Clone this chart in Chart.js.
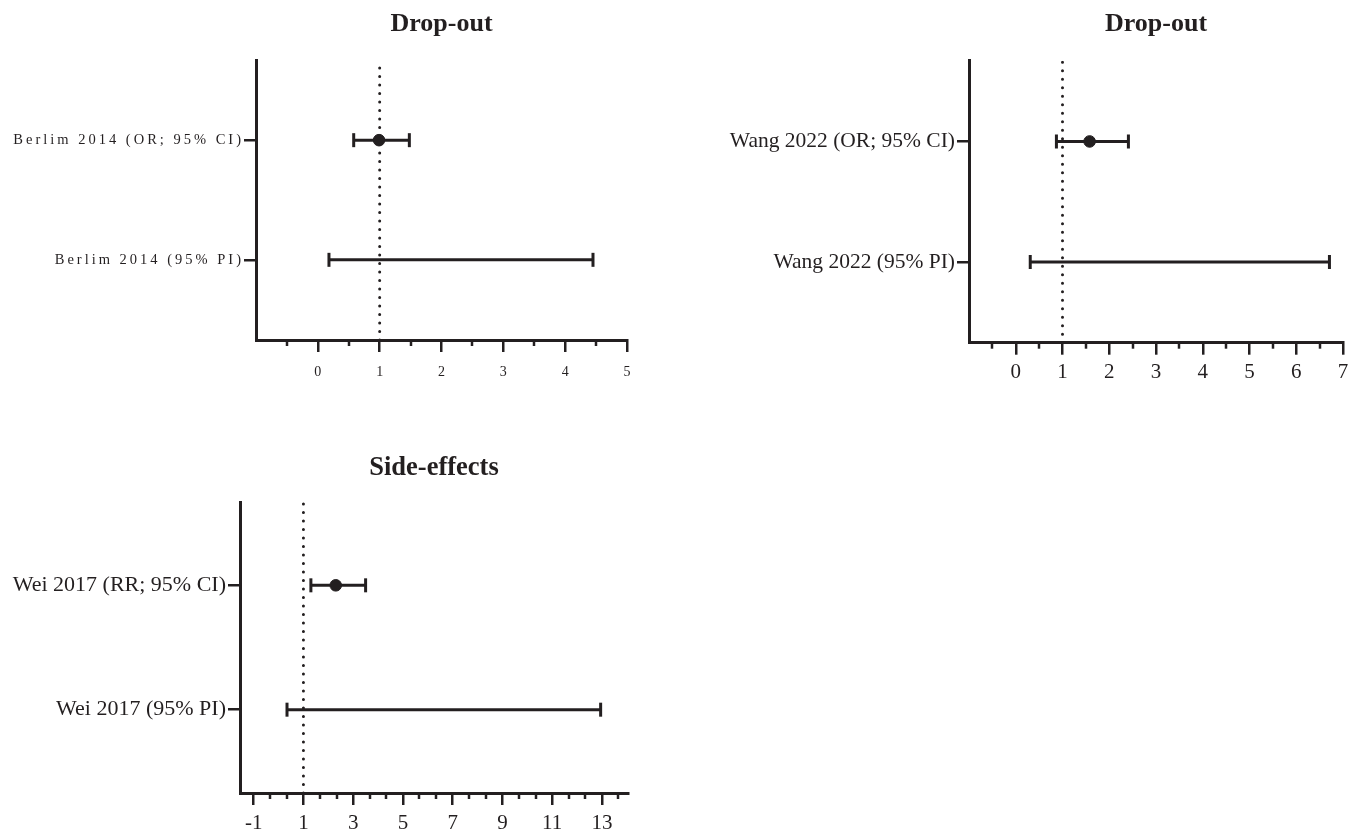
<!DOCTYPE html>
<html><head><meta charset="utf-8">
<script src="https://cdn.jsdelivr.net/npm/chart.js@4"></script>
<style>
html,body{margin:0;padding:0;background:#fff;width:1357px;height:831px;overflow:hidden;position:relative}
canvas{position:absolute}
</style></head>
<body>
<canvas id="c1" width="680" height="415" style="left:0px;top:0px"></canvas>
<canvas id="c2" width="657" height="415" style="left:700px;top:0px"></canvas>
<canvas id="c3" width="680" height="391" style="left:0px;top:440px"></canvas>
<script>
// ---------- data ----------
const title1 = 'Drop-out';
const rows1 = ['Berlim 2014 (95% PI)', 'Berlim 2014 (OR; 95% CI)'];
const estimate1 = [0.99];
const ci1 = [0.58, 1.48];
const pi1 = [0.18, 4.45];
const xTicks1 = [0, 1, 2, 3, 4, 5];

const title2 = 'Drop-out';
const rows2 = ['Wang 2022 (95% PI)', 'Wang 2022 (OR; 95% CI)'];
const estimate2 = [1.58];
const ci2 = [0.87, 2.41];
const pi2 = [0.31, 6.71];
const xTicks2 = [0, 1, 2, 3, 4, 5, 6, 7];

const title3 = 'Side-effects';
const rows3 = ['Wei 2017 (95% PI)', 'Wei 2017 (RR; 95% CI)'];
const estimate3 = [2.3];
const ci3 = [1.3, 3.5];
const pi3 = [0.34, 12.95];
const xTicks3 = [-1, 1, 3, 5, 7, 9, 11, 13];

const nullLine = [1]; // line of no effect

// ---------- style ----------
const INK = '#231f20';
const FONT = "'Liberation Serif', 'Times New Roman', serif";
const Y_MIN = -0.67, Y_MAX = 1.67;

function makePanel(id, d, P) {
  const minorPlugin = {
    id: 'minorTicks' + id,
    afterDraw(chart) {
      const s = chart.scales.x, ctx = chart.ctx;
      ctx.save();
      ctx.strokeStyle = INK; ctx.lineWidth = 2.5;
      const base = d.xTicks[0];
      for (let k = -20; k < 200; k++) {
        const v = base + k * P.minorStep;
        if (v <= s.min + 1e-6 || v > s.max + 1e-6) continue;
        if (d.xTicks.some(t => Math.abs(t - v) < 1e-6)) continue;
        const px = Math.round(s.getPixelForValue(v));
        ctx.beginPath();
        ctx.moveTo(px, s.top);
        ctx.lineTo(px, s.top + P.minorLen);
        ctx.stroke();
      }
      ctx.restore();
    }
  };
  const spacingPlugin = {
    id: 'spacing' + id,
    afterDatasetsDraw(chart) { chart.ctx.letterSpacing = P.letterSpacing || '0px'; },
    afterDraw(chart) { chart.ctx.letterSpacing = '0px'; }
  };
  const barStyle = {
    showLine: true, borderColor: INK, borderWidth: 3,
    pointStyle: 'line', pointRotation: 90, pointRadius: 7,
    pointBorderWidth: 3, pointBorderColor: INK, pointBackgroundColor: INK
  };
  return new Chart(document.getElementById(id), {
    type: 'scatter',
    data: {
      datasets: [
        { data: d.estimate.map(v => ({x: v, y: 1})), pointRadius: 5.8,
          pointBackgroundColor: INK, pointBorderColor: INK, pointBorderWidth: 1 },
        Object.assign({ data: [{x: d.ci[0], y: 1}, {x: d.ci[1], y: 1}] }, barStyle),
        Object.assign({ data: [{x: d.pi[0], y: 0}, {x: d.pi[1], y: 0}] }, barStyle),
        { data: [{x: d.nullLine[0], y: Y_MIN}, {x: d.nullLine[0], y: Y_MAX}], showLine: true,
          borderColor: INK, borderWidth: 3, borderDash: [0, 8.5], borderCapStyle: 'round', pointRadius: 0 }
      ]
    },
    options: {
      responsive: false, animation: false, events: [],
      devicePixelRatio: 1,
      layout: { padding: { left: 0, right: P.padRight, top: 0, bottom: 0 } },
      plugins: {
        legend: { display: false }, tooltip: { enabled: false },
        title: { display: true, text: d.title, fullSize: false, color: INK,
          font: { family: FONT, size: P.titleSize, weight: 'bold' },
          padding: { top: P.titleTop, bottom: P.titleBottom } }
      },
      scales: {
        x: {
          type: 'linear', min: P.xMin, max: P.xMax,
          afterFit: s => { s.height = P.xh; },
          afterBuildTicks: s => { s.ticks = d.xTicks.map(v => ({value: v})); },
          ticks: { callback: v => String(v), color: INK, font: { family: FONT, size: P.xTickSize },
            padding: P.xPad, maxRotation: 0, autoSkip: false },
          grid: { drawOnChartArea: false, drawTicks: true, tickLength: 12, lineWidth: 2.5, color: INK },
          border: { display: true, width: 3, color: INK }
        },
        y: {
          type: 'linear', min: Y_MIN, max: Y_MAX,
          afterFit: s => { s.width = P.yw; },
          afterBuildTicks: s => { s.ticks = d.rows.map((_, i) => ({value: i})); },
          ticks: { callback: v => d.rows[v], color: INK, font: { family: FONT, size: P.yLabelSize },
            padding: P.yPad, autoSkip: false, z: 1 },
          grid: { drawOnChartArea: false, drawTicks: true, tickLength: 12, lineWidth: 2.5, color: INK },
          border: { display: true, width: 3, color: INK }
        }
      }
    },
    plugins: [minorPlugin, spacingPlugin]
  });
}

makePanel('c1',
  { title: title1, rows: rows1, estimate: estimate1, ci: ci1, pi: pi1, xTicks: xTicks1, nullLine },
  { xMin: -1, xMax: 5, minorStep: 0.5, minorLen: 6, padRight: 53, yw: 256, xh: 75,
    titleSize: 26, titleTop: 8.4, titleBottom: 20.4, xTickSize: 14, xPad: 12,
    yLabelSize: 14.5, yPad: 0, letterSpacing: '3px' });

makePanel('c2',
  { title: title2, rows: rows2, estimate: estimate2, ci: ci2, pi: pi2, xTicks: xTicks2, nullLine },
  { xMin: -1, xMax: 7, minorStep: 0.5, minorLen: 6, padRight: 14, yw: 269, xh: 72.3,
    titleSize: 26, titleTop: 8.4, titleBottom: 21.1, xTickSize: 21, xPad: 5,
    yLabelSize: 21.5, yPad: 2 });

makePanel('c3',
  { title: title3, rows: rows3, estimate: estimate3, ci: ci3, pi: pi3, xTicks: xTicks3, nullLine },
  { xMin: -1.55, xMax: 14.05, minorStep: 2 / 3, minorLen: 6, padRight: 52, yw: 240, xh: 38,
    titleSize: 26.5, titleTop: 12, titleBottom: 18.2, xTickSize: 21, xPad: 5.4,
    yLabelSize: 22, yPad: 2 });
</script>
</body></html>
